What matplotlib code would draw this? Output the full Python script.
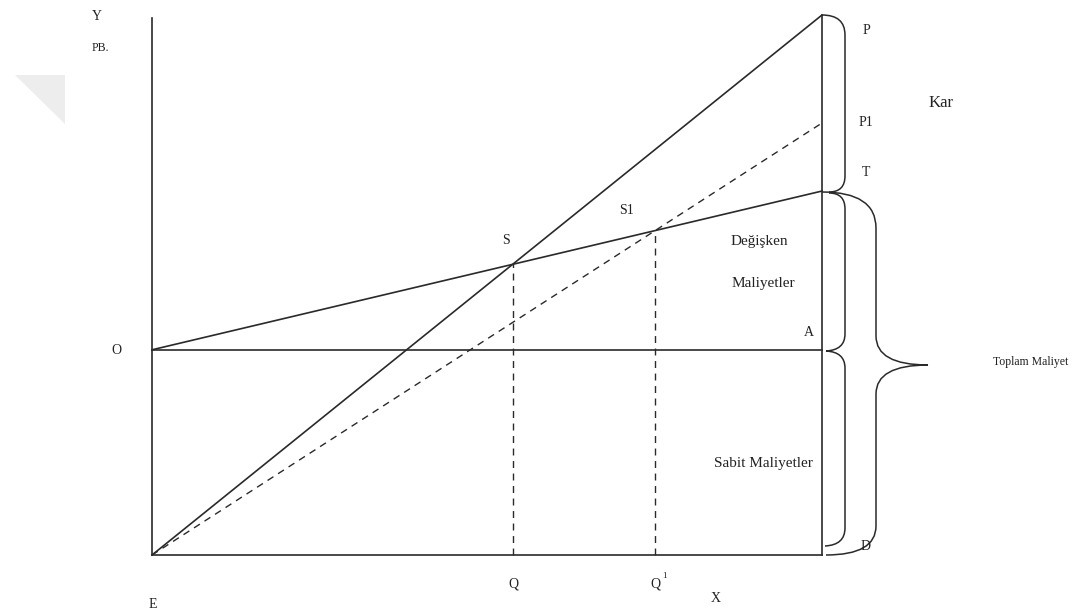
import matplotlib
matplotlib.use("Agg")
import matplotlib.pyplot as plt
from matplotlib.path import Path
from matplotlib.patches import PathPatch, Polygon

# ---- data (quantity axis 0..100, money axis 0..100) ----
quantity = [0, 100]
revenue = [0, 100]          # E -> P
revenue_alt = [0, 80]       # E -> P1 (dashed)
fixed_cost = [38, 38]       # O -> A
total_cost = [38, 67.4]     # O -> T

def slope(v):
    return (v[1] - v[0]) / (quantity[1] - quantity[0])

def intersect(a, b):
    x = (b[0] - a[0]) / (slope(a) - slope(b))
    return x, a[0] + slope(a) * x

S = intersect(revenue, total_cost)
S1 = intersect(revenue_alt, total_cost)

# pixel helpers for annotation placement
def X(px):
    return (px - 152) / 6.7
def Y(py):
    return (555 - py) / 5.4

plt.rcParams['font.family'] = ['Liberation Serif', 'DejaVu Serif']
fig = plt.figure(figsize=(10.78, 6.13), dpi=100)
ax = fig.add_axes([0, 0, 1, 1])
ax.set_xlim(X(0), X(1078))
ax.set_ylim(Y(613), Y(0))
ax.axis('off')

lc = '#2a2a2a'
lw = 1.2

# watermark triangle
ax.add_patch(Polygon([(X(15), Y(75)), (X(65), Y(75)), (X(65), Y(124))],
                     closed=True, facecolor='#ededed', edgecolor='none'))

# axes lines
ax.plot([0, 0], [Y(18), 0], color=lc, lw=lw)
ax.plot(quantity, [0, 0], color=lc, lw=lw)
ax.plot([quantity[1]] * 2, [0, revenue[1]], color=lc, lw=lw)

# cost & revenue lines
ax.plot(quantity, fixed_cost, color=lc, lw=lw)
ax.plot(quantity, total_cost, color=lc, lw=lw)
ax.plot(quantity, revenue, color=lc, lw=lw)
ax.plot(quantity, revenue_alt, color=lc, lw=1.0, ls=(0, (5, 4)))

# dashed drop lines
ax.plot([S[0], S[0]], [0, S[1]], color=lc, lw=1.0, ls=(0, (5, 4)))
ax.plot([S1[0], S1[0]], [0, S1[1]], color=lc, lw=1.0, ls=(0, (5, 4)))

# braces (pixel-coordinate paths)
def draw_path(pts, codes):
    verts = [(X(a), Y(b)) for a, b in pts]
    ax.add_patch(PathPatch(Path(verts, codes), facecolor='none',
                           edgecolor=lc, lw=1.1))

M, L, C = Path.MOVETO, Path.LINETO, Path.CURVE3
# Kar brace
draw_path([(822, 15), (845, 15), (845, 35), (845, 176), (845, 192), (829, 192)],
          [M, C, C, L, C, C])
# Degisken brace
draw_path([(829, 193), (845, 193), (845, 209), (845, 334), (845, 350), (826, 351),
           (845, 352), (845, 368)],
          [M, C, C, L, C, C, C, C])
# Sabit brace
draw_path([(845, 368), (845, 528), (845, 545), (825, 546)],
          [M, L, C, C])
# Toplam brace
draw_path([(822, 192), (876, 192), (876, 228), (876, 336), (876, 365), (928, 365),
           (876, 365), (876, 394), (876, 526), (876, 555), (826, 555)],
          [M, C, C, L, C, C, C, C, L, C, C])

tc = '#222222'
def T(px, py, s, size=10, **kw):
    ax.text(X(px), Y(py), s, ha='center', va='center', fontsize=size, color=tc, **kw)

T(97, 17, 'Y', 10)
T(100, 48, 'PB.', 8.5)
T(116, 351, 'O', 10)
T(153, 604, 'E', 10)
T(513, 584, 'Q', 10)
T(655, 584, 'Q', 10)
T(664, 576, '1', 6.5)
T(716, 599, 'X', 10)
T(866, 30, 'P', 10)
T(866, 122, 'P1', 10)
T(866, 173, 'T', 10)
T(941, 103, 'Kar', 12)
T(506, 241, 'S', 10)
T(626, 210, 'S1', 10)
T(759, 242, 'Değişken', 11)
T(763, 283, 'Maliyetler', 11)
T(809, 333, 'A', 10)
T(1031, 362, 'Toplam Maliyet', 8.5)
T(763, 463, 'Sabit Maliyetler', 11)
T(866, 546, 'D', 10)

fig.savefig('out.png', dpi=100)
